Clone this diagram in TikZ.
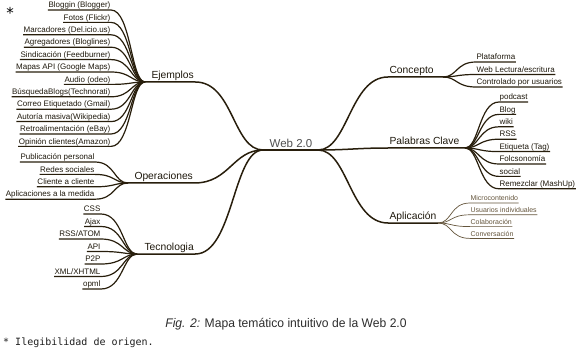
\documentclass[tikz,border=0pt]{standalone}
\usepackage{fontspec}
\setmainfont{Liberation Sans}
\newfontfamily\notefont{DejaVu Sans Mono}
\newfontfamily\astfont{DejaVu Sans}
\definecolor{lnc}{RGB}{40,30,12}
\definecolor{txc}{RGB}{30,24,12}
\definecolor{lgc}{RGB}{100,85,60}
\definecolor{ctc}{RGB}{80,80,80}
\begin{document}
\begin{tikzpicture}[x=1pt,y=-1pt,
  ln/.style={draw=lnc, line width=1.2pt},
  lnthin/.style={draw=lgc, line width=0.7pt},
  br/.style={draw=lnc, line width=1.5pt},
  leafbase/.style={inner sep=0.6pt, outer sep=0pt, text height=5.8pt, text depth=1.7pt, font=\fontsize{8}{9}\selectfont, text=txc},
  leafL/.style={leafbase, anchor=south east},
  leafR/.style={leafbase, anchor=south west},
  leafA/.style={leafbase, anchor=south west, text=lgc, font=\fontsize{7}{8}\selectfont},
  branch/.style={inner sep=1.5pt, outer sep=0pt, text height=7.5pt, text depth=2pt, font=\fontsize{10.3}{11}\selectfont, text=txc},
]
\useasboundingbox (0,0) rectangle (577,355);

% centre
\coordinate (cl) at (263,150);
\coordinate (cr) at (318,150);
\node[inner sep=0pt, anchor=base, font=\fontsize{11.5}{12}\selectfont, text=ctc] (web) at (291,147.5) {Web 2.0};
\draw[br] (cl) -- (cr);

% junctions
\coordinate (jE) at (145,82);
\coordinate (jO) at (128,183);
\coordinate (jT) at (137,254);
\coordinate (jC) at (443,77);
\coordinate (jP) at (465,148);
\coordinate (jA) at (438,223);

% branch labels
\node[branch, anchor=south west] (E) at (150,82) {Ejemplos};
\node[branch, anchor=south west] (O) at (133,183) {Operaciones};
\node[branch, anchor=south west] (T) at (143,254) {Tecnologia};
\node[branch, anchor=south west] (C) at (388,77) {Concepto};
\node[branch, anchor=south west] (P) at (388,148) {Palabras Clave};
\node[branch, anchor=south west] (A) at (388,223) {Aplicación};

\draw[br] (jE) -- (E.south east) .. controls +(38,0) and +(-30,0) .. (cl);
\draw[br] (jO) -- (O.south east) .. controls +(35,0) and +(-30,0) .. (cl);
\draw[br] (jT) -- (T.south east) .. controls +(38,0) and +(-30,0) .. (cl);
\draw[br] (cr) .. controls +(30,0) and +(-38,0) .. (C.south west) -- (jC);
\draw[br] (cr) .. controls +(30,0) and +(-30,0) .. (P.south west) -- (jP);
\draw[br] (cr) .. controls +(30,0) and +(-38,0) .. (A.south west) -- (jA);

% Ejemplos leaves
\foreach \t [count=\i from 0] in {Bloggin (Blogger), Fotos (Flickr), Marcadores (Del.icio.us), Agregadores (Bloglines), Sindicación (Feedburner), Mapas API (Google Maps), Audio (odeo), BúsquedaBlogs(Technorati), Correo Etiquetado (Gmail), Autoría masiva(Wikipedia), Retroalimentación (eBay), Opinión clientes(Amazon)} {
  \node[leafL] (e\i) at (111,{10+12.4*\i}) {\t};
  \draw[ln] (e\i.south west) -- (e\i.south east) .. controls +(20,0) and +(-14,0) .. (jE);
}

% Operaciones leaves
\foreach \t [count=\i from 0] in {Publicación personal, Redes sociales, Cliente a cliente, Aplicaciones a la medida} {
  \node[leafL] (o\i) at (95,{162+12.4*\i}) {\t};
  \draw[ln] (o\i.south west) -- (o\i.south east) .. controls +(20,0) and +(-14,0) .. (jO);
}

% Tecnologia leaves
\foreach \t [count=\i from 0] in {CSS, Ajax, RSS/ATOM, API, P2P, XML/XHTML, opml} {
  \node[leafL] (t\i) at (101,{214+12.5*\i}) {\t};
  \draw[ln] (t\i.south west) -- (t\i.south east) .. controls +(22,0) and +(-14,0) .. (jT);
}

% Concepto leaves
\foreach \t [count=\i from 0] in {Plataforma, Web Lectura/escritura, Controlado por usuarios} {
  \node[leafR] (c\i) at (476,{62+12.5*\i}) {\t};
  \draw[ln] (jC) .. controls +(14,0) and +(-20,0) .. (c\i.south west) -- (c\i.south east);
}

% Palabras Clave leaves
\foreach \t [count=\i from 0] in {podcast, Blog, wiki, RSS, Etiqueta (Tag), Folcsonomía, social, Remezclar (MashUp)} {
  \node[leafR] (p\i) at (499,{102+12.4*\i}) {\t};
  \draw[ln] (jP) .. controls +(14,0) and +(-20,0) .. (p\i.south west) -- (p\i.south east);
}

% Aplicacion leaves
\foreach \t [count=\i from 0] in {Microcontenido, Usuarios individuales, Colaboración, Conversación} {
  \node[leafA] (a\i) at (470,{203+11.8*\i}) {\t};
  \draw[lnthin] (jA) .. controls +(14,0) and +(-20,0) .. (a\i.south west) -- (a\i.south east);
}

% caption and notes
\node[inner sep=0pt, anchor=base, text={rgb,255:red,45;green,45;blue,45}] (cap) at (286,327) {\scalebox{0.97}[1]{\fontsize{12.5}{14}\selectfont\textit{Fig. 2:} Mapa temático intuitivo de la Web 2.0}};
\node[inner sep=0pt, anchor=base west, font=\notefont\fontsize{10}{11}\selectfont, text={rgb,255:red,30;green,30;blue,30}] (note) at (3,345) {* Ilegibilidad de origen.};
\node[inner sep=0pt, font=\astfont\fontsize{15}{15}\selectfont] (ast) at (10,13) {*};
\end{tikzpicture}
\end{document}
